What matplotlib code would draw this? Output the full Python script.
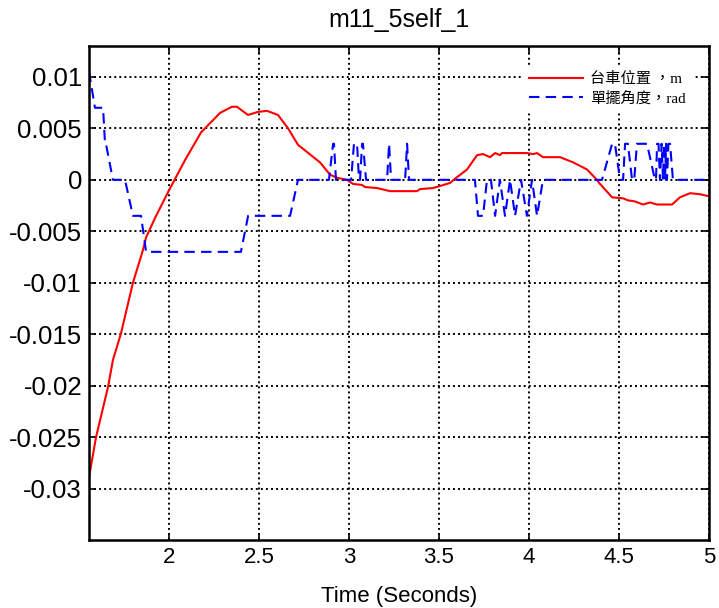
import matplotlib
matplotlib.use("Agg")
import matplotlib.pyplot as plt

plt.rcParams['font.family'] = ['Liberation Sans', 'DejaVu Sans']

# cart position (m)
cart_t = [1.556, 1.595, 1.662, 1.689, 1.734, 1.800, 1.856, 1.873, 1.923, 1.995,
          2.089, 2.178, 2.284, 2.350, 2.378, 2.439, 2.495, 2.545, 2.606, 2.662,
          2.717, 2.767, 2.839, 2.895, 2.934, 2.989, 3.023, 3.073, 3.089, 3.156,
          3.228, 3.378, 3.395, 3.467, 3.506, 3.562, 3.589, 3.656, 3.712, 3.745,
          3.784, 3.812, 3.839, 3.850, 3.989, 4.023, 4.045, 4.078, 4.173, 4.245,
          4.323, 4.367, 4.395, 4.462, 4.523, 4.551, 4.589, 4.634, 4.673, 4.712,
          4.795, 4.839, 4.895, 4.951, 5.000]
cart_pos = [-0.0289, -0.0250, -0.0201, -0.0175, -0.0149, -0.0100, -0.0068, -0.0056, -0.0037, -0.0012,
            0.0019, 0.0046, 0.0065, 0.0071, 0.0071, 0.0063, 0.0066, 0.0067, 0.0063, 0.0050,
            0.0034, 0.0027, 0.0017, 0.0005, 0.0002, 0.0000, -0.0004, -0.0005, -0.0007, -0.0008,
            -0.0011, -0.0011, -0.0009, -0.0008, -0.0006, -0.0003, 0.0001, 0.0010, 0.0024, 0.0025,
            0.0022, 0.0026, 0.0024, 0.0026, 0.0026, 0.0025, 0.0026, 0.0022, 0.0022, 0.0017,
            0.0010, 0.0002, -0.0004, -0.0017, -0.0018, -0.0020, -0.0021, -0.0024, -0.0022, -0.0024,
            -0.0024, -0.0017, -0.0013, -0.0014, -0.0016]

# pendulum angle (rad), stepped encoder values
pend_t = [1.556, 1.589, 1.634, 1.645, 1.650, 1.689, 1.756, 1.800, 1.845, 1.873,
          2.400, 2.440, 2.673, 2.717,
          2.889, 2.912, 2.917, 2.928,
          3.012, 3.028, 3.045, 3.056, 3.062, 3.073, 3.078, 3.095,
          3.212, 3.223, 3.234, 3.312, 3.323, 3.334,
          3.700, 3.717, 3.745, 3.767, 3.789, 3.812, 3.839, 3.867, 3.895, 3.923,
          3.956, 3.989, 4.017, 4.045, 4.078,
          4.406, 4.462, 4.478, 4.506, 4.523, 4.534, 4.550, 4.573, 4.585, 4.600,
          4.656, 4.700, 4.706, 4.712, 4.720, 4.728, 4.737, 4.745, 4.750, 4.756,
          4.762, 4.767, 4.775, 4.784, 4.800, 5.000]
pend_ang = [0.0105, 0.0070, 0.0070, 0.0035, 0.0035, 0.0, 0.0, -0.0035, -0.0035, -0.0070,
            -0.0070, -0.0035, -0.0035, 0.0,
            0.0, 0.0035, 0.0035, 0.0,
            0.0, 0.0035, 0.0035, 0.0, 0.0, 0.0035, 0.0035, 0.0,
            0.0, 0.0035, 0.0, 0.0, 0.0035, 0.0,
            0.0, -0.0035, -0.0035, 0.0, 0.0, -0.0035, 0.0, -0.0035, 0.0, -0.0035,
            0.0, -0.0035, 0.0, -0.0035, 0.0,
            0.0, 0.0035, 0.0035, 0.0, 0.0, 0.0035, 0.0035, 0.0, 0.0, 0.0035,
            0.0035, 0.0, 0.0, 0.0035, 0.0035, 0.0, 0.0035, 0.0, 0.0035, 0.0,
            0.0035, 0.0, 0.0035, 0.0035, 0.0, 0.0]

x_ticks = [2, 2.5, 3, 3.5, 4, 4.5, 5]
x_labels = ['2', '2.5', '3', '3.5', '4', '4.5', '5']
y_ticks = [0.01, 0.005, 0, -0.005, -0.01, -0.015, -0.02, -0.025, -0.03]
y_labels = ['0.01', '0.005', '0', '-0.005', '-0.01', '-0.015', '-0.02', '-0.025', '-0.03']
legend_labels = ['台車位置 ，m', '單擺角度，rad']

fig = plt.figure(figsize=(7.19, 6.08), dpi=100)
ax = fig.add_axes([0.1238, 0.1118, 0.8622, 0.8125])

ax.plot(cart_t, cart_pos, color='red', linewidth=1.5, label=legend_labels[0])
ax.plot(pend_t, pend_ang, color='blue', linewidth=1.5, linestyle=(0, (5, 3)),
        label=legend_labels[1])

ax.set_xlim(1.556, 5.0)
ax.set_ylim(-0.035, 0.013)
ax.set_xticks(x_ticks)
ax.set_xticklabels(x_labels)
ax.set_yticks(y_ticks)
ax.set_yticklabels(y_labels)
ax.tick_params(direction='in', top=True, right=True, length=5, width=1.2, pad=5)
ax.tick_params(axis='x', labelsize=16)
ax.tick_params(axis='y', labelsize=18.5)
ax.grid(True, color='black', linestyle=(0, (1, 1.6)), linewidth=1.4)
for s in ax.spines.values():
    s.set_linewidth(1.8)

ax.set_title('m11_5self_1', fontsize=18, pad=14)
ax.set_xlabel('Time (Seconds)', fontsize=16, labelpad=13)

leg = ax.legend(loc='upper right', bbox_to_anchor=(0.985, 0.975),
                prop={'family': ['Liberation Serif', 'Noto Sans CJK TC', 'DejaVu Sans'], 'size': 11},
                frameon=True, fancybox=False, edgecolor='white', framealpha=1,
                handlelength=3.5, handletextpad=0.5, labelspacing=0.35)

fig.savefig('out.png', dpi=100, facecolor='white')
